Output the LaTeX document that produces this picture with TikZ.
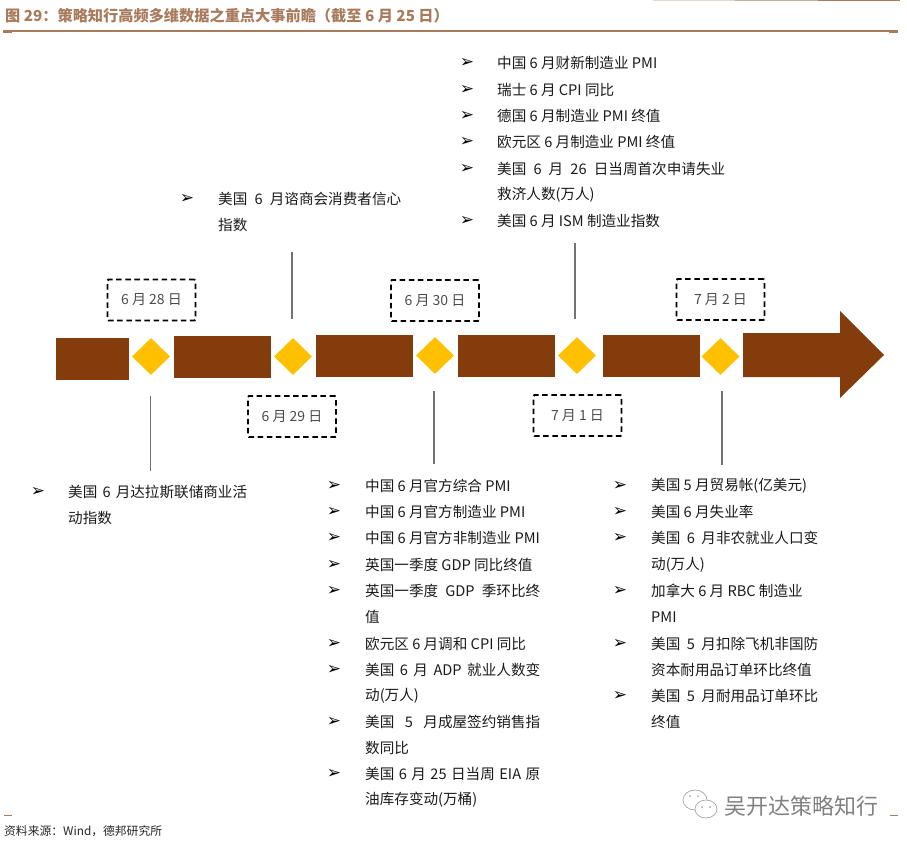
\documentclass[tikz,border=0pt]{standalone}
\usepackage{fontspec}
\setmainfont{Noto Sans CJK SC}
\newfontfamily\dejafont{DejaVu Sans}
\usetikzlibrary{positioning, shapes.geometric}
\definecolor{barbrown}{HTML}{843C0C}
\definecolor{rulebrown}{HTML}{A87B5C}
\definecolor{gold}{HTML}{FFC000}
\definecolor{inkgray}{HTML}{1A1A1A}

\begin{document}
\begin{tikzpicture}[
    x=1pt, y=-1pt,
    bar/.style={fill=barbrown, inner sep=0pt},
    gem/.style={diamond, fill=gold, inner sep=0pt, minimum width=38pt, minimum height=37pt},
    datebox/.style={draw=black, line width=1.8pt, dash pattern=on 5.5pt off 3.6pt, rounded corners=1pt,
        minimum width=88pt, minimum height=41pt, inner sep=0pt, text=black!70, font=\fontsize{14}{16}\selectfont},
    item/.style={anchor=west, inner sep=0pt, yshift=-1pt, text=inkgray, font=\fontsize{14.6}{16}\selectfont},
    bul/.style={inner sep=0pt, yshift=-1pt, font=\dejafont\bfseries\fontsize{17}{18}\selectfont},
    lead/.style={draw=black!55, line width=1.1pt}
]
\useasboundingbox (0,0) rectangle (907,847);

% Title and rules
\node[anchor=west, inner sep=0pt, text=rulebrown, font=\bfseries\fontsize{15.2}{16}\selectfont] (title) at (5,16)
    {图 29：策略知行高频多维数据之重点大事前瞻（截至 6 月 25 日）};
\fill[rulebrown] (3,30) rectangle (898,32);
\fill[rulebrown] (3,32) rectangle (12,33);
\fill[rulebrown] (889,32) rectangle (898,33);
\fill[rulebrown!30] (653,0) rectangle (735,1);
\fill[rulebrown!60] (735,0) rectangle (818,1);
\fill[rulebrown] (818,0) rectangle (900,1);

% Timeline bars
\node[bar, minimum width=73pt, minimum height=42pt] (b1) at (92.5,359) {};
\node[bar, minimum width=97pt, minimum height=42pt] (b2) at (222,357) {};
\node[bar, minimum width=97pt, minimum height=42pt] (b3) at (364.5,356) {};
\node[bar, minimum width=97pt, minimum height=42pt] (b4) at (506,356) {};
\node[bar, minimum width=97pt, minimum height=42pt] (b5) at (651,356) {};
\fill[barbrown] (743,333) -- (840,333) -- (840,311) -- (884,355) -- (840,398) -- (840,377) -- (743,377) -- cycle;

% Diamonds
\node[gem] (d1) at (151,356.5) {};
\node[gem] (d2) at (293,356.5) {};
\node[gem] (d3) at (435,355.5) {};
\node[gem] (d4) at (577,355.5) {};
\node[gem] (d5) at (720.5,356.5) {};

% Date boxes
\node[datebox] (t1) at (151.5,300) {6 月 28 日};
\node[datebox] (t2) at (292,416.5) {6 月 29 日};
\node[datebox] (t3) at (435,300.5) {6 月 30 日};
\node[datebox] (t4) at (577.5,415.5) {7 月 1 日};
\node[datebox] (t5) at (720.5,299.5) {7 月 2 日};

% Leader lines
\coordinate (l1) at (150.5,471);
\coordinate (l2) at (292,252);
\coordinate (l3) at (434,464);
\coordinate (l4) at (575,243);
\coordinate (l5) at (722,465);
\draw[lead, shorten <=21pt] (d1.south -| l1) -- (l1);
\draw[lead, shorten <=19pt] (d2.north -| l2) -- (l2);
\draw[lead, shorten <=17pt] (d3.south -| l3) -- (l3);
\draw[lead, shorten <=18pt] (d4.north -| l4) -- (l4);
\draw[lead, shorten <=16pt] (d5.south -| l5) -- (l5);

% Lists of events
\foreach \n/\y/\t in {
    a1/62/{中国 6 月财新制造业 PMI}, a2/89/{瑞士 6 月 CPI 同比}, a3/115/{德国 6 月制造业 PMI 终值},
    a4/141/{欧元区 6 月制造业 PMI 终值}, a5/168/{\makebox[228pt][s]{美国 6 月 26 日当周首次申请失业}},
    a6/194/{救济人数(万人)}, a7/220/{美国 6 月 ISM 制造业指数}}
    \node[item] (\n) at (497,\y) {\t};
\foreach \n/\y/\t in {c1/198/{\makebox[183pt][s]{美国 6 月谘商会消费者信心}}, c2/224/{指数}}
    \node[item] (\n) at (218,\y) {\t};
\foreach \n/\y/\t in {e1/491/{\makebox[179pt][s]{美国 6 月达拉斯联储商业活}}, e2/517/{动指数}}
    \node[item] (\n) at (68,\y) {\t};
\foreach \n/\y/\t in {
    f1/485/{中国 6 月官方综合 PMI}, f2/511/{中国 6 月官方制造业 PMI}, f3/537/{中国 6 月官方非制造业 PMI},
    f4/564/{英国一季度 GDP 同比终值}, f5/590/{\makebox[175pt][s]{英国一季度 GDP 季环比终}}, f6/616/{值},
    f7/643/{欧元区 6 月调和 CPI 同比}, f8/669/{\makebox[175pt][s]{美国 6 月 ADP 就业人数变}}, f9/695/{动(万人)},
    f10/721/{\makebox[175pt][s]{美国 5 月成屋签约销售指}}, f11/747/{数同比},
    f12/773/{\makebox[175pt][s]{美国 6 月 25 日当周 EIA 原}}, f13/799/{油库存变动(万桶)}}
    \node[item] (\n) at (365,\y) {\t};
\foreach \n/\y/\t in {
    g1/485/{美国 5 月贸易帐(亿美元)}, g2/511/{美国 6 月失业率}, g3/537/{\makebox[167pt][s]{美国 6 月非农就业人口变}},
    g4/564/{动(万人)}, g5/590/{加拿大 6 月 RBC 制造业}, g6/616/{PMI},
    g7/643/{\makebox[167pt][s]{美国 5 月扣除飞机非国防}}, g8/669/{资本耐用品订单环比终值},
    g9/695/{\makebox[167pt][s]{美国 5 月耐用品订单环比}}, g10/721/{终值}}
    \node[item] (\n) at (651,\y) {\t};

% Bullets
\foreach \n/\y in {a1/62, a2/89, a3/115, a4/141, a5/168, a7/220}
    \node[bul] (m\n) at (467,\y) {➢};
\foreach \n/\y in {c1/198}
    \node[bul] (m\n) at (187,\y) {➢};
\foreach \n/\y in {e1/491}
    \node[bul] (m\n) at (38,\y) {➢};
\foreach \n/\y in {f1/485, f2/511, f3/537, f4/564, f5/590, f7/643, f8/669, f10/721, f12/773}
    \node[bul] (m\n) at (334,\y) {➢};
\foreach \n/\y in {g1/485, g2/511, g3/537, g5/590, g7/643, g9/695}
    \node[bul] (m\n) at (620,\y) {➢};

% Footer
\fill[rulebrown] (4,814.5) rectangle (12,815.5);
\fill[rulebrown] (890,814.5) rectangle (898,815.5);
\node[anchor=west, inner sep=0pt, text=black!85, font=\fontsize{11.8}{14}\selectfont] (src) at (4,831)
    {资料来源：Wind，德邦研究所};

% Watermark
\draw[black!35, line width=.7pt] (695,800) ellipse (12pt and 10pt);
\draw[black!35, line width=.7pt, fill=white] (706,809) ellipse (11pt and 9pt);
\fill[black!35] (690,796) circle (1pt) (698,796) circle (1pt) (702,807) circle (1pt) (710,807) circle (1pt);
\node[anchor=west, inner sep=0pt, text=black!50, font=\fontsize{22}{24}\selectfont] (wm) at (724,806) {吴开达策略知行};
\end{tikzpicture}
\end{document}
